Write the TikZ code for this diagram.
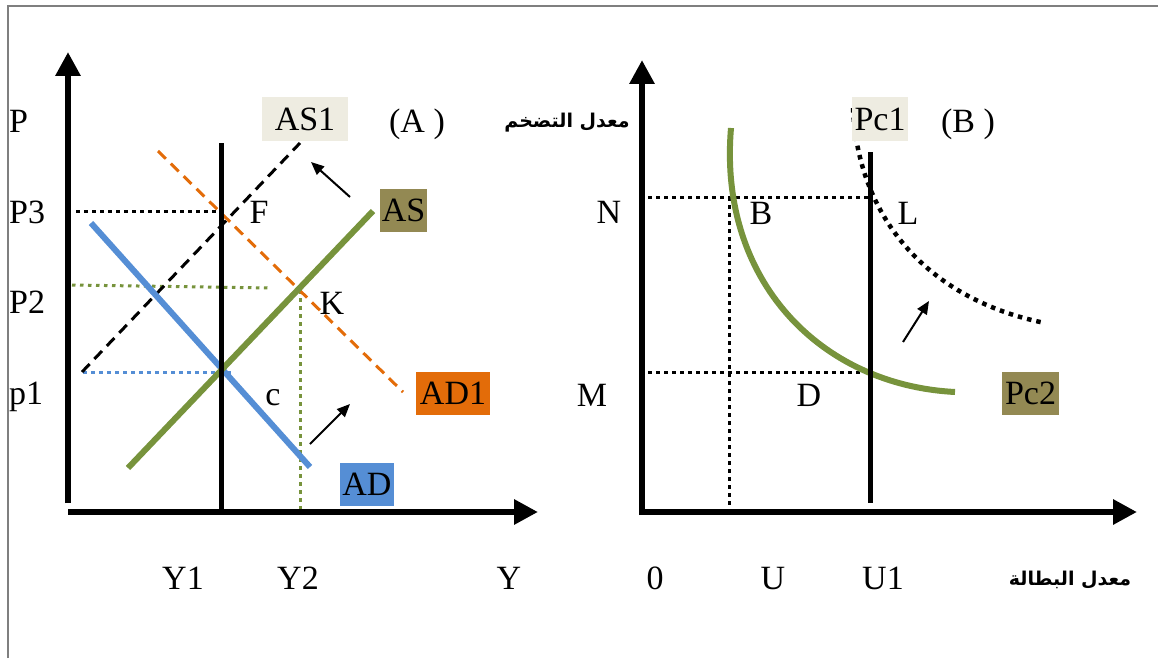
\documentclass[tikz,border=0pt]{standalone}
\usepackage{fontspec}
\setmainfont{Liberation Serif}
\newfontfamily\arabicfont[Script=Arabic]{DejaVu Sans}
\TeXXeTstate=1
\usetikzlibrary{arrows.meta}
\definecolor{asgreen}{HTML}{77933C}
\definecolor{adblue}{HTML}{558ED5}
\definecolor{adorange}{HTML}{E36C09}
\definecolor{olivebox}{HTML}{938953}
\definecolor{beigebox}{HTML}{EEECE1}
\definecolor{framegray}{HTML}{7F7F7F}
\tikzset{
  lbl/.style={anchor=base,inner sep=0pt,font=\fontsize{34}{40.8}\selectfont},
  tagbox/.style={inner sep=0pt,font=\fontsize{34}{40.8}\selectfont,minimum width=#1,minimum height=43pt},
  arab/.style={inner sep=0pt,font=\arabicfont\bfseries\fontsize{19}{22.8}\selectfont},
  axis/.style={line width=6pt,-{Triangle[length=24pt,width=24pt]}},
  shiftarrow/.style={line width=2pt,-{Triangle[length=13pt,width=11pt]}},
  guide/.style={line width=3pt,dash pattern=on 3.5pt off 4.5pt},
  shiftline/.style={line width=3pt,dash pattern=on 11pt off 7pt},
}
\begin{document}
\begin{tikzpicture}[x=1pt,y=-1pt]
\path[use as bounding box] (0,0) rectangle (1158.0,658.0);
\draw[framegray,line width=2pt] (8,658) -- (8,6) -- (1158,6);
\draw[guide] (76,211) -- (218,211);
\draw[guide,asgreen] (72,285) -- (270,288);
\draw[guide,asgreen] (300,290) -- (300,510);
\draw[guide,adblue] (83,372) -- (233,372);
\draw[shiftline] (82,372) -- (300,143);
\draw[shiftline,adorange] (158,151) -- (403,392);
\draw[line width=6pt,adblue] (91,223) -- (310,467);
\draw[line width=6pt,asgreen] (128,468) -- (373,211);
\draw[line width=5pt] (221,143) -- (221,512);
\draw[axis] (68,503) -- (68,52);
\draw[axis] (68,512) -- (538,512);
\node[tagbox=86pt,fill=beigebox] (as1) at (305,119) {AS1};
\node[tagbox=47pt,fill=olivebox] (as) at (403.5,210) {AS};
\node[tagbox=74pt,fill=adorange] (ad1) at (453,393.5) {AD1};
\node[tagbox=54pt,fill=adblue] (ad) at (367,484) {AD};
\coordinate (astail) at (350,197);
\coordinate (ashead) at (311,162);
\coordinate (adtail) at (310,444);
\coordinate (adhead) at (350,404);
\draw[shiftarrow] (astail) -- (ashead);
\draw[shiftarrow] (adtail) -- (adhead);
\node[lbl,anchor=base west] (p) at (9,132) {P};
\node[lbl,anchor=base west] (p3) at (9,223) {P3};
\node[lbl,anchor=base west] (p2) at (9,313) {P2};
\node[lbl,anchor=base west] (p1) at (9,404) {p1};
\node[lbl] (ptA) at (417,132) {(A )};
\node[lbl] (ptF) at (259,223) {F};
\node[lbl] (ptK) at (332,314) {K};
\node[lbl] (ptc) at (273,405) {c};
\node[lbl] (y1) at (183,589) {Y1};
\node[lbl] (y2) at (298,589) {Y2};
\node[lbl] (y) at (509,589) {Y};
\node[arab] (infl) at (567,123) {\beginR معدل التضخم\endR};
\draw[guide] (648,197) -- (868,197);
\draw[guide] (648,372) -- (868,372);
\draw[guide] (729,197) -- (729,505);
\draw[line width=4.5pt,dash pattern=on 4.5pt off 5pt] (853,108) .. controls (858,220) and (930,300) .. (1045,323);
\draw[line width=6pt,asgreen] (731,128) .. controls (718,280) and (820,385) .. (955,392);
\draw[line width=5pt] (870,152) -- (870,503);
\draw[axis] (642,515) -- (642,60);
\draw[axis] (639,512) -- (1137,512);
\node[tagbox=56pt,fill=beigebox] (pc1) at (880,119) {Pc1};
\node[tagbox=57pt,fill=olivebox] (pc2) at (1030.5,393.5) {Pc2};
\coordinate (pctail) at (903,342);
\coordinate (pchead) at (929,301);
\draw[shiftarrow] (pctail) -- (pchead);
\node[lbl] (ptB) at (968,132) {(B )};
\node[lbl] (n) at (609,223) {N};
\node[lbl] (m) at (592,406) {M};
\node[lbl] (bB) at (761,224) {B};
\node[lbl] (bL) at (908,224) {L};
\node[lbl] (bD) at (809,406) {D};
\node[lbl] (zero) at (655,589) {0};
\node[lbl] (u) at (773,589) {U};
\node[lbl] (u1) at (883,589) {U1};
\node[arab] (unemp) at (1070,580) {\beginR معدل البطالة\endR};
\end{tikzpicture}
\end{document}
